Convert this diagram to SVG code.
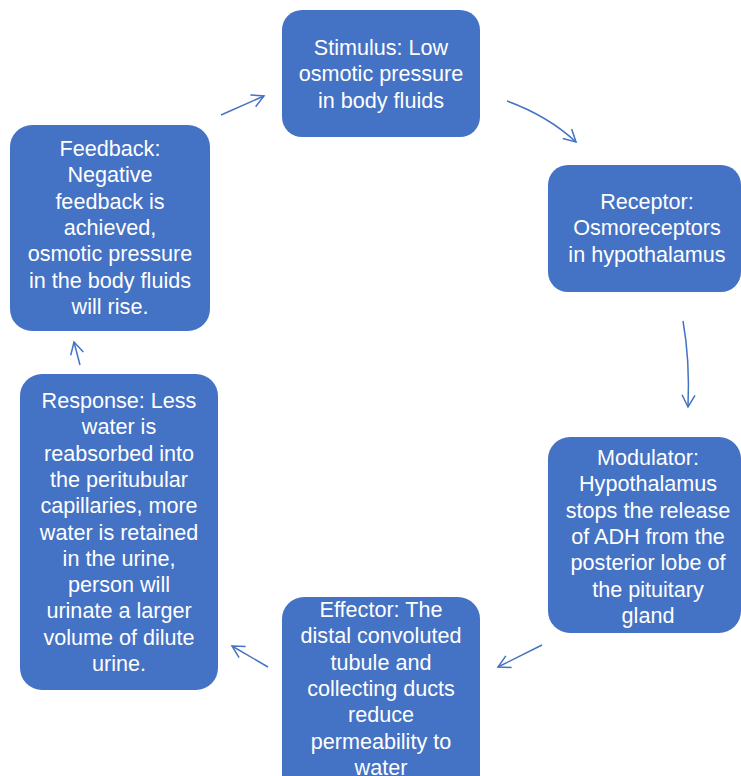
<svg xmlns="http://www.w3.org/2000/svg" width="741" height="776" viewBox="0 0 741 776">
<style>
.box{fill:#4472C4;}
.t{fill:#ffffff;font-family:"Liberation Sans",Arial,sans-serif;font-size:21.6px;text-anchor:middle;}
.c{fill:none;stroke:#4472C4;stroke-width:1.5;}
</style>
<defs>
<marker id="ah" viewBox="-14 -8 16 16" refX="0" refY="0" markerWidth="16" markerHeight="16" markerUnits="userSpaceOnUse" orient="auto">
<path d="M-12,-6.5 L0,0 L-12,6.5" fill="none" stroke="#4472C4" stroke-width="1.5"/>
</marker>
</defs>
<rect width="741" height="776" fill="#ffffff"/>
<g id="stimulus">
<rect class="box" x="282" y="10" width="198" height="127" rx="20"/>
<text class="t" y="55"><tspan x="381">Stimulus: Low</tspan><tspan x="381" dy="26.3">osmotic pressure</tspan><tspan x="381" dy="26.3">in body fluids</tspan></text>
</g>
<g id="receptor">
<rect class="box" x="548" y="165" width="193" height="127" rx="20"/>
<text class="t" y="209"><tspan x="647">Receptor:</tspan><tspan x="647" dy="26.3">Osmoreceptors</tspan><tspan x="647" dy="26.3">in hypothalamus</tspan></text>
</g>
<g id="modulator">
<rect class="box" x="548" y="437" width="193" height="196" rx="22"/>
<text class="t" y="465"><tspan x="648">Modulator:</tspan><tspan x="648" dy="26.3">Hypothalamus</tspan><tspan x="648" dy="26.3">stops the release</tspan><tspan x="648" dy="26.3">of ADH from the</tspan><tspan x="648" dy="26.3">posterior lobe of</tspan><tspan x="648" dy="26.3">the pituitary</tspan><tspan x="648" dy="26.3">gland</tspan></text>
</g>
<g id="effector">
<rect class="box" x="282" y="597" width="198" height="210" rx="22"/>
<text class="t" y="617"><tspan x="381">Effector: The</tspan><tspan x="381" dy="26.3">distal convoluted</tspan><tspan x="381" dy="26.3">tubule and</tspan><tspan x="381" dy="26.3">collecting ducts</tspan><tspan x="381" dy="26.3">reduce</tspan><tspan x="381" dy="26.3">permeability to</tspan><tspan x="381" dy="26.3">water</tspan></text>
</g>
<g id="response">
<rect class="box" x="20" y="374" width="198" height="316" rx="22"/>
<text class="t" y="408"><tspan x="119">Response: Less</tspan><tspan x="119" dy="26.3">water is</tspan><tspan x="119" dy="26.3">reabsorbed into</tspan><tspan x="119" dy="26.3">the peritubular</tspan><tspan x="119" dy="26.3">capillaries, more</tspan><tspan x="119" dy="26.3">water is retained</tspan><tspan x="119" dy="26.3">in the urine,</tspan><tspan x="119" dy="26.3">person will</tspan><tspan x="119" dy="26.3">urinate a larger</tspan><tspan x="119" dy="26.3">volume of dilute</tspan><tspan x="119" dy="26.3">urine.</tspan></text>
</g>
<g id="feedback">
<rect class="box" x="10" y="125" width="200" height="206" rx="22"/>
<text class="t" y="156"><tspan x="110">Feedback:</tspan><tspan x="110" dy="26.3">Negative</tspan><tspan x="110" dy="26.3">feedback is</tspan><tspan x="110" dy="26.3">achieved,</tspan><tspan x="110" dy="26.3">osmotic pressure</tspan><tspan x="110" dy="26.3">in the body fluids</tspan><tspan x="110" dy="26.3">will rise.</tspan></text>
</g>
<g id="connectors">
<path class="c" d="M221,115 L264,96" marker-end="url(#ah)"/>
<path class="c" d="M507,101 Q548,116 576,142" marker-end="url(#ah)"/>
<path class="c" d="M683,321 Q690,360 688,407" marker-end="url(#ah)"/>
<path class="c" d="M542,645 L498,667" marker-end="url(#ah)"/>
<path class="c" d="M268,667 L232,646" marker-end="url(#ah)"/>
<path class="c" d="M80,365 L74,342" marker-end="url(#ah)"/>
</g>
</svg>
